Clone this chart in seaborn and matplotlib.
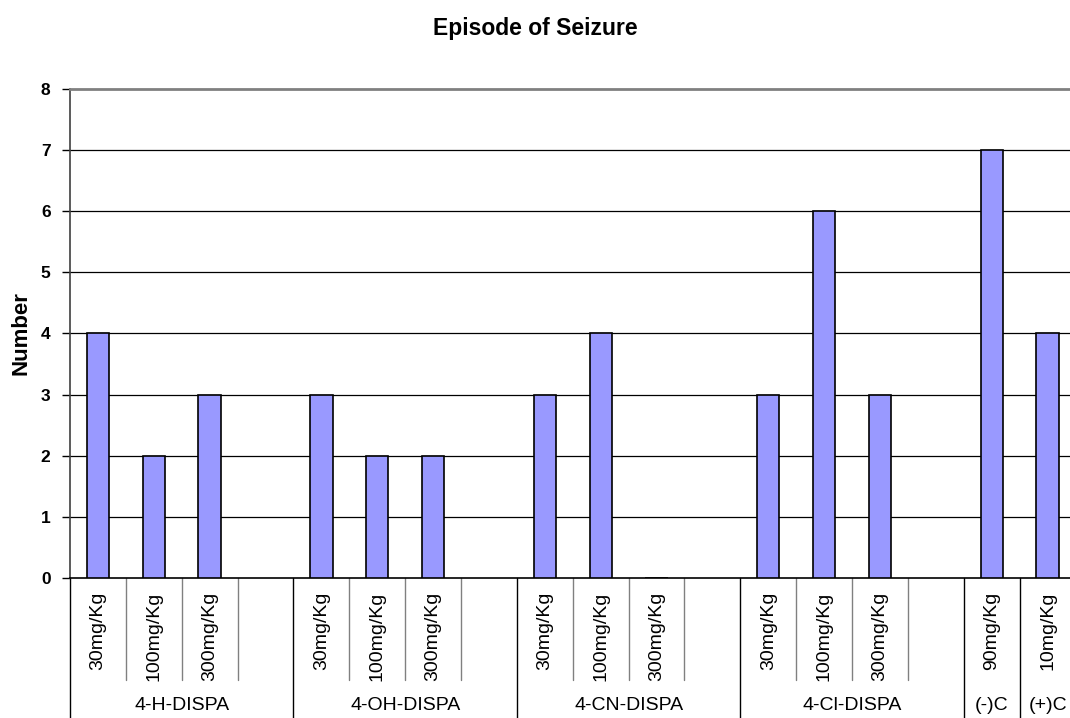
import numpy as np
import pandas as pd
import matplotlib
matplotlib.use("Agg")
import matplotlib.pyplot as plt
import matplotlib.transforms as mtransforms
import seaborn as sns

# ---- data ----
groups = ['4-H-DISPA', '4-OH-DISPA', '4-CN-DISPA', '4-Cl-DISPA', '(-)C', '(+)C']
group_sizes = [4, 4, 4, 4, 1, 1]
doses = ['30mg/Kg', '100mg/Kg', '300mg/Kg', '',
         '30mg/Kg', '100mg/Kg', '300mg/Kg', '',
         '30mg/Kg', '100mg/Kg', '300mg/Kg', '',
         '30mg/Kg', '100mg/Kg', '300mg/Kg', '',
         '90mg/Kg', '10mg/Kg']
values = [4, 2, 3, np.nan,
          3, 2, 2, np.nan,
          3, 4, 0, np.nan,
          3, 6, 3, np.nan,
          7, 4]
y_ticks = [0, 1, 2, 3, 4, 5, 6, 7, 8]

slots = [f"s{i}" for i in range(len(doses))]
df = pd.DataFrame({"slot": slots, "value": values}).dropna()

sns.set_theme(style="white")
plt.rcParams['font.family'] = ['Liberation Sans', 'DejaVu Sans']
plt.rcParams['text.color'] = 'black'
plt.rcParams['ytick.color'] = 'black'
plt.rcParams['ytick.labelcolor'] = 'black'

fig = plt.figure(figsize=(10.70, 7.18), dpi=100)
W, H = 1070, 718
ax_left, ax_right, ax_top, ax_bottom = 70, 1075.5, 89, 578
ax = fig.add_axes([ax_left / W, 1 - ax_bottom / H,
                   (ax_right - ax_left) / W, (ax_bottom - ax_top) / H])

sns.barplot(data=df, x="slot", y="value", order=slots, color="#9999FF",
            saturation=1, edgecolor="black", linewidth=1.2, width=0.4,
            errorbar=None, ax=ax, zorder=3)

n = len(slots)
ax.set_xlim(-0.5, n - 0.5)
ax.set_ylim(0, 8)
ax.set_yticks(y_ticks)
ax.set_yticklabels([str(t) for t in y_ticks], fontsize=12.5,
                   fontweight='bold', color='black')
ax.set_xticks([])
ax.set_xlabel("")
ax.set_ylabel("")
ax.tick_params(axis='y', which='both', left=True, length=6, width=1,
               color='black', pad=8)

for t in y_ticks[1:-1]:
    ax.axhline(t, color='black', linewidth=0.9, zorder=1)

ax.spines['right'].set_visible(False)
ax.spines['top'].set_color('#808080')
ax.spines['top'].set_linewidth(2)
ax.spines['left'].set_color('#404040')
ax.spines['left'].set_linewidth(1.2)
ax.spines['bottom'].set_color('black')
ax.spines['bottom'].set_linewidth(1.2)

# ---- multi-level category axis ----
trans = mtransforms.blended_transform_factory(ax.transData, ax.transAxes)
axh = ax_bottom - ax_top
inner_end = -(680 - ax_bottom) / axh
outer_end = -(730 - ax_bottom) / axh

group_edges = [0]
for g in group_sizes:
    group_edges.append(group_edges[-1] + g)

for b in range(n + 1):
    x = b - 0.5
    if b in group_edges:
        ax.plot([x, x], [0, outer_end], transform=trans, color='black',
                linewidth=1, clip_on=False)
    else:
        ax.plot([x, x], [0, inner_end], transform=trans, color='#808080',
                linewidth=1, clip_on=False)

dose_top = -(592 - ax_bottom) / axh
for i, d in enumerate(doses):
    if d:
        ax.text(i, dose_top, d, transform=trans, rotation=90, ha='center',
                va='top', fontsize=14, color='black')

group_y = -(706 - ax_bottom) / axh
for gi, g in enumerate(groups):
    c = (group_edges[gi] + group_edges[gi + 1] - 1) / 2
    ax.text(c, group_y, g, transform=trans, ha='center', va='center',
            fontsize=14, color='black')

fig.text(535 / W, 1 - 35 / H, "Episode of Seizure", ha='center',
         va='baseline', fontsize=16.5, fontweight='bold', color='black')
fig.text(21.5 / W, 1 - 333 / H, "Number", rotation=90, ha='center',
         va='center', fontsize=16, fontweight='bold', color='black')

fig.savefig("out.png", dpi=100)
